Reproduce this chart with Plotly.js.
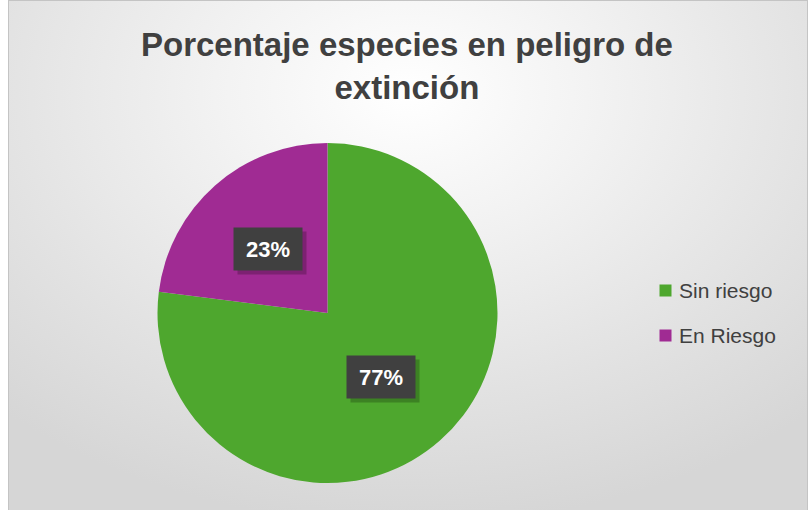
<!DOCTYPE html>
<html><head><meta charset="utf-8">
<script src="https://cdn.plot.ly/plotly-3.0.1.min.js"></script>
<style>
html,body{margin:0;padding:0;width:809px;height:510px;overflow:hidden;background:#fff;}
#bg{position:absolute;left:8px;top:0;width:798px;height:509px;border:1px solid #c4c4c4;
background:radial-gradient(ellipse 75% 85% at 50% 18%, #ffffff 0%, #f3f3f3 30%, #e2e2e2 70%, #d6d6d6 100%);}
#chart{position:absolute;left:0;top:0;width:809px;height:510px;}
</style></head>
<body><div id="bg"></div><div id="chart"></div>
<script>
const labels = ["Sin riesgo", "En Riesgo"];
const values = [77, 23];
const colors = ["#4EA72E", "#A02B93"];
const titleText = "Porcentaje especies en peligro de<br>extinción";

const W = 809, H = 510;
const cx = 327.5, cy = 313, R = 170;
const dom = {x:[(cx-R)/W,(cx+R)/W], y:[(H-cy-R)/H,(H-cy+R)/H]};
const FONT = 'Liberation Sans, Arial, sans-serif';

const total = values.reduce((a,b)=>a+b,0);
const annotations = [];
let acc = 0;
values.forEach((v,i)=>{
  const mid = (acc + v/2)/total*2*Math.PI; acc += v;
  const px = cx + 0.5*R*Math.sin(mid) - 3;
  const py = cy - 0.5*R*Math.cos(mid);
  const txt = Math.round(v/total*100)+"%";
  annotations.push({xref:'paper',yref:'paper',x:(px+4)/W,y:(H-py-4)/H,text:'',showarrow:false,
    width:48,height:22,bgcolor:'rgba(0,0,0,0.22)',borderpad:10,xanchor:'center',yanchor:'middle'});
  annotations.push({xref:'paper',yref:'paper',x:px/W,y:(H-py)/H,text:'<b>'+txt+'</b>',showarrow:false,
    width:48,height:22,font:{family:FONT,size:22,color:'#ffffff'},
    bgcolor:'#404040',borderpad:10,xanchor:'center',yanchor:'middle'});
});

// legend (built from labels/colors)
const legX = 660, legY0 = 290.5, legGap = 45;
labels.forEach((lab,i)=>{
  const y = legY0 + i*legGap;
  annotations.push({xref:'paper',yref:'paper',x:(legX+5.5)/W,y:(H-y)/H,text:'',showarrow:false,
    width:11,height:11,bgcolor:colors[i],borderpad:0,xanchor:'center',yanchor:'middle'});
  annotations.push({xref:'paper',yref:'paper',x:(legX+17)/W,y:(H-y)/H,text:lab,showarrow:false,
    font:{family:FONT,size:21,color:'#404040'},xanchor:'left',yanchor:'middle'});
});

const data = [{type:'pie',labels:labels,values:values,marker:{colors:colors,line:{width:0}},
  sort:false,direction:'clockwise',rotation:0,textinfo:'none',hoverinfo:'label+percent',domain:dom}];

const layout = {width:W,height:H,margin:{l:0,r:0,t:0,b:0},
  paper_bgcolor:'rgba(0,0,0,0)',plot_bgcolor:'rgba(0,0,0,0)',
  title:{text:'<b>'+titleText+'</b>',x:0.503,xanchor:'center',y:0.89,yanchor:'top',
    font:{family:FONT,size:33,color:'#404040'}},
  showlegend:false,
  annotations:annotations};

Plotly.newPlot('chart',data,layout,{displayModeBar:false,staticPlot:true});
</script></body></html>
